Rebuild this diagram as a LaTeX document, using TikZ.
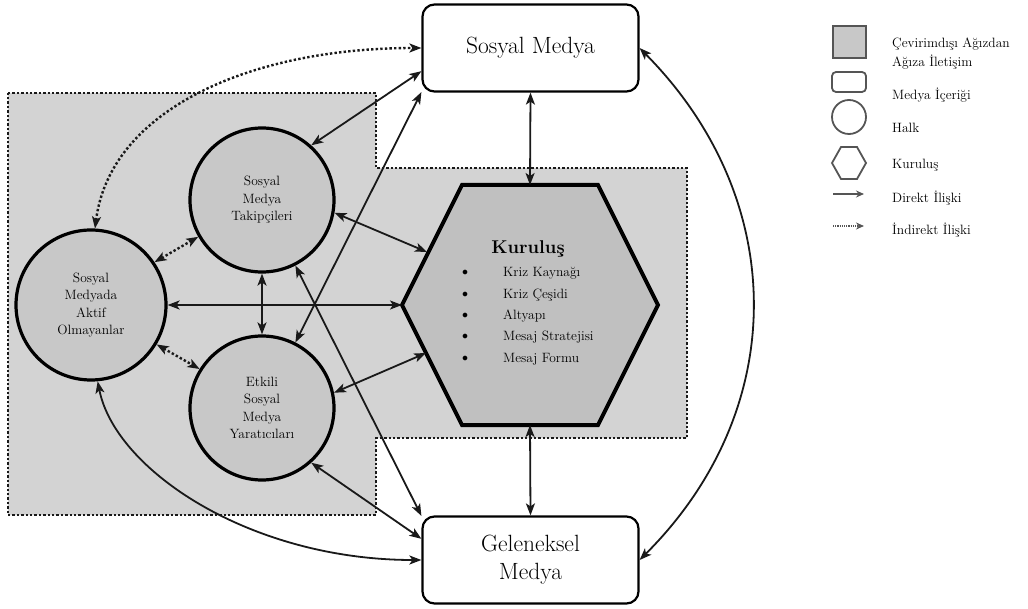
\documentclass[tikz,border=0pt]{standalone}
\usepackage{fontspec}
\usetikzlibrary{arrows.meta,calc}
\definecolor{regiongray}{RGB}{211,211,211}
\definecolor{circgray}{RGB}{200,200,200}
\definecolor{hexgray}{RGB}{192,192,192}
\definecolor{inkgray}{RGB}{25,25,25}
\definecolor{leggray}{RGB}{85,85,85}
\begin{document}
\begin{tikzpicture}[x=1pt,y=-1pt,
  conn/.style={line width=1.8pt, draw=inkgray, {Stealth[length=12pt,width=9pt,inset=3pt]}-{Stealth[length=12pt,width=9pt,inset=3pt]}},
  dotconn/.style={conn, line width=2.4pt, dash pattern=on 2.4pt off 2.2pt},
  region/.style={fill=regiongray, draw=inkgray, line width=2.4pt, dash pattern=on 2.4pt off 2pt},
  public/.style={circle, draw=black, line width=3.2pt, fill=circgray, minimum size=#1, inner sep=0pt, align=center, font=\fontsize{13.5}{17.5}\selectfont},
  media/.style={rectangle, rounded corners=12pt, draw=black, line width=2.2pt, fill=white, minimum width=216pt, minimum height=87pt, align=center, font=\fontsize{23.5}{28}\selectfont},
  item/.style={anchor=west, font=\fontsize{13.5}{15}\selectfont, inner sep=0pt},
  bullet/.style={font=\fontsize{12.5}{15}\selectfont, inner sep=0pt},
  legtext/.style={anchor=west, align=left, inner sep=0pt, font=\fontsize{13.5}{19}\selectfont},
  legsym/.style={draw=leggray, line width=1.8pt}
]
\useasboundingbox (0,0) rectangle (1028,609);

% dotted background region
\draw[region] (8,93) -- (376,93) -- (376,168) -- (687,168) -- (687,438) -- (376,438) -- (376,515) -- (8,515) -- cycle;

% hexagon (organisation)
\coordinate (hexTL) at (462,185);
\coordinate (hexTR) at (598,185);
\coordinate (hexR) at (658,305);
\coordinate (hexBR) at (598,425);
\coordinate (hexBL) at (462,425);
\coordinate (hexL) at (402,305);
\coordinate (hexT) at (530,185);
\coordinate (hexB) at (530,425);
\coordinate (hexE) at (427,252);
\coordinate (hexH) at (426,353);
\draw[fill=hexgray, draw=black, line width=4pt, line join=miter] (hexTL) -- (hexTR) -- (hexR) -- (hexBR) -- (hexBL) -- (hexL) -- cycle;
\node[font=\fontsize{18.5}{20}\selectfont\bfseries, inner sep=0pt] (kurTitle) at (528,249) {Kuruluş};
\foreach \y/\t [count=\i] in {273/Kriz Kaynağı, 295/Kriz Çeşidi, 316/Altyapı, 337/Mesaj Stratejisi, 359/Mesaj Formu}{
  \node[bullet] (bul\i) at (465,\y) {$\bullet$};
  \node[item] (itm\i) at (503,\y) {\t};
}

% media boxes
\node[media] (sm) at (530.5,48) {Sosyal Medya};
\node[media] (gm) at (530.5,560) {Geleneksel\\Medya};

% publics
\node[public=144pt] (tak) at (262,200) {Sosyal\\Medya\\Takipçileri};
\node[public=150pt] (ak) at (91,305) {Sosyal\\Medyada\\Aktif\\Olmayanlar};
\node[public=144pt] (et) at (262,408) {Etkili\\Sosyal\\Medya\\Yaratıcıları};

% connectors
\draw[conn] (tak.48) -- (sm.192);
\draw[conn] (et.63) -- (sm.202);
\draw[conn] (tak.-63) -- (gm.158);
\draw[conn] (et.-48) -- (gm.169);
\draw[conn] (ak.-85) .. controls (115,470) and (250,560) .. (gm.west);
\draw[conn] (tak.-10) -- (hexE);
\draw[conn] (ak.east) -- (hexL);
\draw[conn] (tak.south) -- (et.north);
\draw[conn] (et.12) -- (hexH);
\draw[conn] (sm.south) -- (hexT);
\draw[conn] (hexB) -- (gm.north);
\draw[conn] (sm.east) .. controls (790,200) and (790,410) .. (gm.east);
\draw[dotconn] (ak.34) -- (tak.210);
\draw[dotconn] (ak.-31) -- (et.148);
\draw[dotconn] (ak.87) .. controls (110,110) and (250,48) .. (sm.west);

% legend
\draw[legsym, fill=circgray] (833,26) rectangle (866,58);
\draw[legsym, rounded corners=4pt] (832,72) rectangle (866,92);
\draw[legsym] (849,117) circle (17);
\draw[legsym] (832,163) -- (841,147) -- (857,147) -- (866,163) -- (857,179) -- (841,179) -- cycle;
\coordinate (legA1) at (833,194);
\coordinate (legA2) at (864,194);
\coordinate (legB1) at (833,226);
\coordinate (legB2) at (864,226);
\draw[draw=leggray, line width=1.8pt, -{Stealth[length=8pt,width=7pt]}] (legA1) -- (legA2);
\draw[draw=leggray, line width=1.8pt, dash pattern=on 1.2pt off 1pt, -{Stealth[length=8pt,width=7pt]}] (legB1) -- (legB2);
\node[legtext] (leg1) at (892,54) {Çevirimdışı Ağızdan\\Ağıza İletişim};
\node[legtext] (leg2) at (892,95) {Medya İçeriği};
\node[legtext] (leg3) at (892,128) {Halk};
\node[legtext] (leg4) at (892,165) {Kuruluş};
\node[legtext] (leg5) at (892,198) {Direkt İlişki};
\node[legtext] (leg6) at (892,230) {İndirekt İlişki};
\end{tikzpicture}
\end{document}
